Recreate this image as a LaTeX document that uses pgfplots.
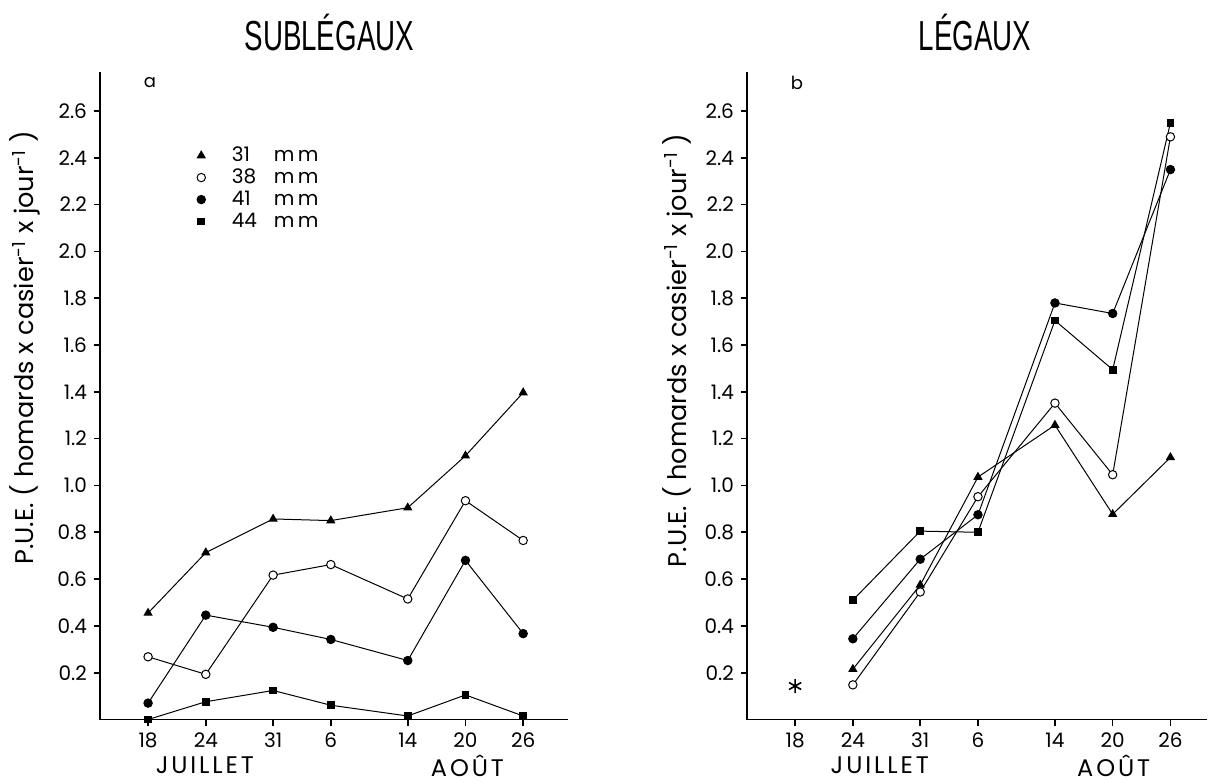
\documentclass[border=0pt]{standalone}
\usepackage{pgfplots}
\pgfplotsset{compat=1.18}
\usepackage{fontspec}
\setmainfont{Poppins}
\newfontfamily\titlefont[FakeStretch=0.66]{Liberation Sans}
\newfontfamily\monthfont[LetterSpace=12]{Poppins}

\pgfplotsset{
  panel/.style={
    scale only axis, height=323.75pt,
    ymin=0, ymax=2.767,
    axis x line=bottom, axis y line=left,
    axis line style={-, line width=0.8pt},
    tick align=outside, major tick length=3pt,
    tick style={line width=0.8pt, black},
    xtick={18,24,31,37,45,51,57},
    xticklabels={18,24,31,6,14,20,26},
    ytick={0.2,0.4,0.6,0.8,1.0,1.2,1.4,1.6,1.8,2.0,2.2,2.4,2.6},
    yticklabel style={/pgf/number format/.cd,fixed,fixed zerofill,precision=1},
    /pgf/number format/assume math mode=true,
    tick label style={font=\fontsize{10}{11}\selectfont},
    title style={font=\titlefont\fontsize{21}{22}\selectfont, anchor=center},
    ylabel style={font=\fontsize{12.8}{13}\selectfont, rotate=0, anchor=center},
    clip=false,
    every axis plot/.append style={black, line width=0.5pt},
  },
  s31/.style={mark=triangle*, mark size=2.2pt},
  s38/.style={mark=*, mark size=2.1pt, mark options={fill=white}},
  s41/.style={mark=*, mark size=2.1pt},
  s44/.style={mark=square*, mark size=1.7pt},
}
\newcommand{\mm}[1]{\makebox[1.2em][l]{#1}\hspace{0.9em}m\,m}

\begin{document}
\begin{tikzpicture}
\useasboundingbox (-50pt,-31.25pt) rectangle (558pt,359.75pt);

% a : sublegaux
\begin{axis}[panel, width=234pt,
  xmin=13.0, xmax=61.66,
  title={SUBLÉGAUX}, title style={at={(rel axis cs:0.49,1.043)}},
  ylabel={P.U.E. ( homards x casier\textsuperscript{-1} x jour\textsuperscript{-1} )},
  ylabel style={at={(rel axis cs:-0.16,0.574)}},
  legend style={at={(axis cs:22.6,2.45)}, anchor=north west, draw=none, fill=none,
    font=\fontsize{10}{10}\selectfont, row sep=2pt, inner sep=0pt,
    nodes={inner sep=0.5pt, text height=7pt, text depth=1pt}},
  legend cell align=left,
  legend image code/.code={\path[draw=none,fill=none] (0cm,-0.05cm) rectangle (0.67cm,0.05cm);
    \draw[#1] plot coordinates {(0.15cm,0cm)};},
]
\addplot[s31] coordinates {(18,0.455) (24,0.713) (31,0.857) (37,0.850) (45,0.905) (51,1.127) (57,1.397)};
\addplot[s38] coordinates {(18,0.268) (24,0.193) (31,0.617) (37,0.662) (45,0.515) (51,0.935) (57,0.765)};
\addplot[s41] coordinates {(18,0.070) (24,0.446) (31,0.394) (37,0.342) (45,0.252) (51,0.680) (57,0.367)};
\addplot[s44] coordinates {(18,0.0) (24,0.076) (31,0.124) (37,0.061) (45,0.015) (51,0.105) (57,0.015)};
\legend{\mm{31}, \mm{38}, \mm{41}, \mm{44}}
\node[font=\fontsize{9}{9}\selectfont] at (axis cs:18.2,2.72) {a};
\node[font=\monthfont\fontsize{12}{12}\selectfont, yshift=-23pt] at (axis cs:23.9,0) {JUILLET};
\node[font=\monthfont\fontsize{12}{12}\selectfont, yshift=-23pt] at (axis cs:51.2,0) {AOÛT};
\end{axis}

% b : legaux
\begin{axis}[panel, width=230pt, at={(323.5pt,0pt)}, anchor=south west,
  xmin=13.0, xmax=60.8,
  title={LÉGAUX}, title style={at={(rel axis cs:0.496,1.043)}},
  ylabel={P.U.E. ( homards x casier\textsuperscript{-1} x jour\textsuperscript{-1} )},
  ylabel style={at={(rel axis cs:-0.15,0.57)}},
]
\addplot[s44] coordinates {(24,0.51) (31,0.805) (37,0.80) (45,1.705) (51,1.495) (57,2.55)};
\addplot[s41] coordinates {(24,0.345) (31,0.685) (37,0.875) (45,1.78) (51,1.735) (57,2.35)};
\addplot[s38] coordinates {(24,0.148) (31,0.545) (37,0.952) (45,1.352) (51,1.046) (57,2.49)};
\addplot[s31] coordinates {(24,0.215) (31,0.575) (37,1.036) (45,1.258) (51,0.877) (57,1.12)};
\addplot[only marks, mark=asterisk, mark size=3.5pt, line width=0.8pt] coordinates {(18,0.143)};
\node[font=\fontsize{9}{9}\selectfont] at (axis cs:18.2,2.72) {b};
\node[font=\monthfont\fontsize{12}{12}\selectfont, yshift=-23pt] at (axis cs:26.8,0) {JUILLET};
\node[font=\monthfont\fontsize{12}{12}\selectfont, yshift=-23pt] at (axis cs:51.1,0) {AOÛT};
\end{axis}
\end{tikzpicture}
\end{document}
